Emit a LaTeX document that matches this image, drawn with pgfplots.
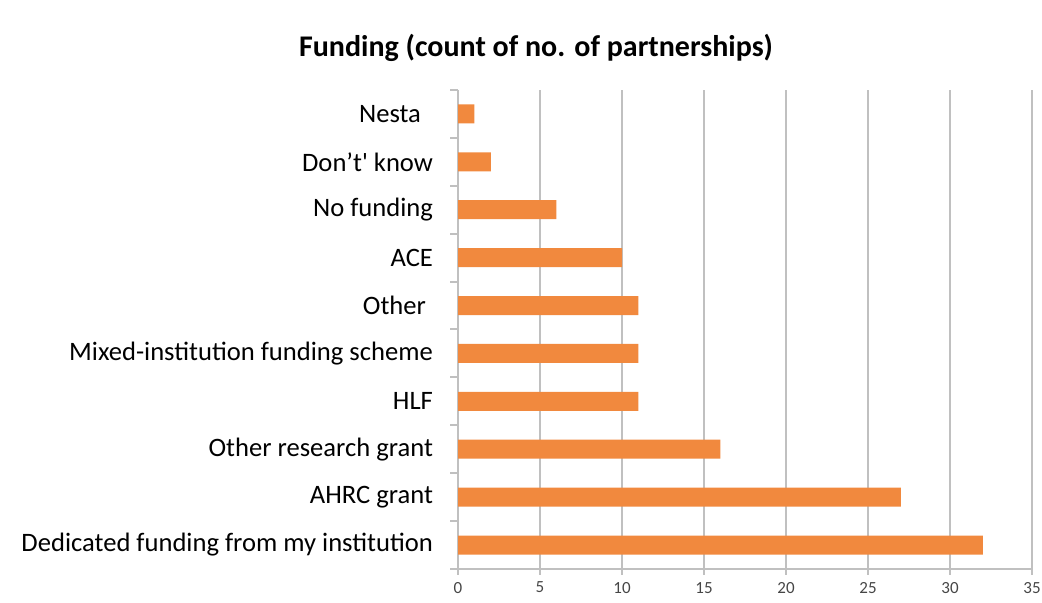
\documentclass[border=0pt]{standalone}
\usepackage{fontspec}
\setmainfont{Carlito}
\usepackage{pgfplots}
\pgfplotsset{compat=1.18}
\definecolor{barorange}{RGB}{241,137,62}
\definecolor{gridgray}{RGB}{192,192,192}
\definecolor{ticktext}{RGB}{70,70,70}
\begin{document}
\begin{tikzpicture}
\path[use as bounding box] (0pt,0pt) rectangle (521pt,301.5pt);
\node[font=\bfseries\fontsize{15}{18}\selectfont] at (268pt,277.5pt) {Funding (count of no. of partnerships)};
\begin{axis}[
  at={(229pt,17pt)}, anchor=south west, scale only axis,
  width=287pt, height=239.5pt,
  xmin=0, xmax=35, ymin=0.5, ymax=10.5,
  xtick={0,5,...,35},
  ytick={1,...,10},
  yticklabels={Dedicated funding from my institution, AHRC grant, Other research grant, HLF, Mixed-institution funding scheme, Other\hspace*{3.5pt}, ACE, No funding, Don’t\textquotesingle\ know, Nesta\hspace*{6pt}},
  minor ytick={0.5,1.5,...,10.5},
  axis x line*=bottom, axis y line*=left,
  xmajorgrids,
  grid style={gridgray, line width=1pt},
  axis line style={gridgray, line width=1pt},
  tick align=outside,
  major tick length=3pt,
  minor tick length=4pt,
  major x tick style={gridgray, line width=1pt},
  major y tick style={draw=none},
  minor y tick style={gridgray, line width=1pt},
  /pgf/number format/assume math mode=true,
  xticklabel style={font=\fontsize{8.5}{10}\selectfont, text=ticktext},
  yticklabel style={font=\fontsize{13.3}{16}\selectfont, text=black, xshift=-6pt},
]
\addplot[xbar, bar width=9.5pt, draw=none, fill=barorange]
coordinates {(32,1) (27,2) (16,3) (11,4) (11,5) (11,6) (10,7) (6,8) (2,9) (1,10)};
\end{axis}
\end{tikzpicture}
\end{document}
